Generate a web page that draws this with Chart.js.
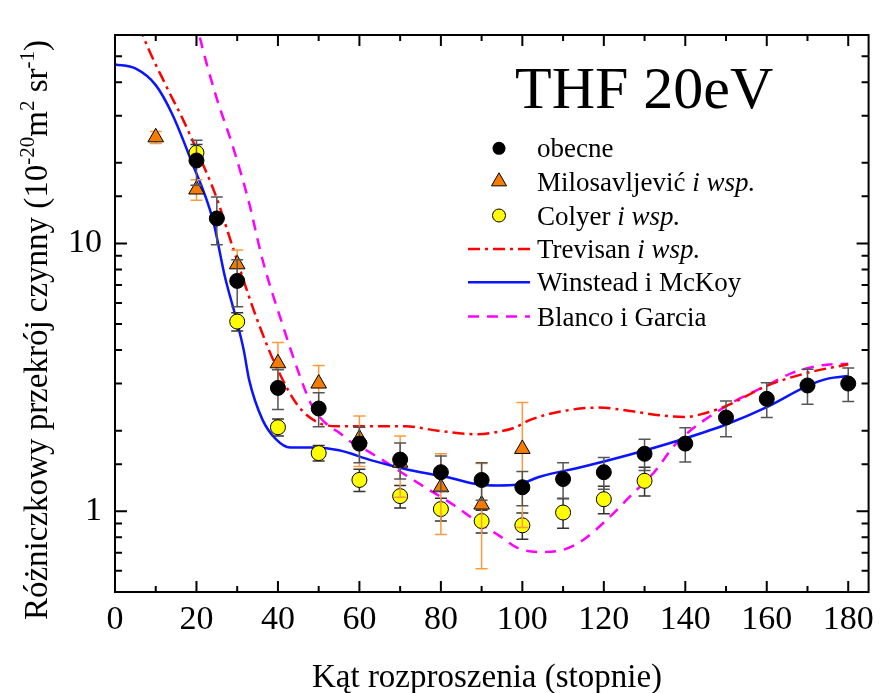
<!DOCTYPE html>
<html lang="pl">
<head>
<meta charset="utf-8">
<title>THF 20eV</title>
<script src="https://cdn.jsdelivr.net/npm/chart.js@4.4.1/dist/chart.umd.min.js"></script>
<style>
  html, body { margin: 0; padding: 0; background: #fff; }
  canvas { display: block; }
</style>
</head>
<body>
<canvas id="dcs" width="882" height="693"></canvas>
<script>
// Scattering angles (degrees) and differential cross sections (10^-20 m^2 sr^-1)
const obecneAngles = [20, 25, 30, 40, 50, 60, 70, 80, 90, 100, 110, 120, 130, 140, 150, 160, 170, 180];
const obecneValues = [20.4, 12.4, 7.25, 2.89, 2.42, 1.79, 1.56, 1.40, 1.31, 1.23, 1.32, 1.40, 1.64, 1.79, 2.24, 2.63, 2.95, 3.00];
const obecneErrors = [3.9, 2.5, 1.45, 0.49, 0.35, 0.27, 0.24, 0.21, 0.21, 0.18, 0.2, 0.19, 0.22, 0.26, 0.34, 0.39, 0.44, 0.43];

const milosAngles = [10, 20, 30, 40, 50, 60, 70, 80, 90, 100];
const milosValues = [24.9, 15.9, 8.36, 3.57, 3.00, 1.87, 1.52, 1.23, 1.06, 1.71];
const milosErrors = [1.3, 1.4, 1.1, 0.7, 0.5, 0.4, 0.39, 0.41, 0.45, 0.84];

const colyerAngles = [20, 30, 40, 50, 60, 70, 80, 90, 100, 110, 120, 130];
const colyerValues = [21.8, 5.11, 2.06, 1.65, 1.31, 1.14, 1.02, 0.92, 0.887, 0.99, 1.11, 1.30];
const colyerErrors = [1.6, 0.4, 0.15, 0.11, 0.125, 0.11, 0.1, 0.09, 0.1, 0.125, 0.13, 0.16];

const trevisanAngles = [4, 6.8, 12.6, 16.7, 20.7, 24.8, 28.9, 33.7, 37.4, 40.3, 45, 50, 54.9, 65, 71.2, 79.3, 89.1, 94, 98, 102.1, 110.2, 118.4, 126.5, 133, 140, 145, 150, 160, 170, 180];
const trevisanValues = [80, 60, 38.6, 29, 21.2, 15.0, 9.7, 5.84, 4.14, 3.29, 2.47, 2.14, 2.08, 2.08, 2.08, 2.0, 1.94, 1.98, 2.05, 2.2, 2.37, 2.44, 2.37, 2.29, 2.25, 2.33, 2.47, 2.94, 3.29, 3.54];

const winsteadAngles = [0, 5, 10, 14, 18.7, 24, 27, 29.8, 31.6, 32.9, 36.2, 39.5, 43, 49, 55, 63, 71.2, 81.7, 89.1, 94, 98.8, 104.5, 115.1, 126.5, 137.9, 150, 160, 170, 175, 180];
const winsteadValues = [46.6, 45.0, 39.0, 30.5, 20.4, 12.3, 7.5, 5.2, 4.0, 3.11, 2.2, 1.86, 1.73, 1.73, 1.69, 1.55, 1.44, 1.34, 1.26, 1.25, 1.26, 1.35, 1.47, 1.63, 1.83, 2.11, 2.45, 2.94, 3.13, 3.2];

const blancoAngles = [18, 20.7, 24.8, 28.9, 32.9, 36.2, 41.5, 45.1, 48.4, 52.5, 55, 57.3, 61.4, 65.5, 71.2, 76.1, 83.4, 88.3, 94.4, 98.8, 104.5, 110.2, 115.1, 120.8, 126.5, 132.2, 137.9, 150, 159.8, 166.3, 173.6, 180];
const blancoValues = [95, 60, 35.5, 23.1, 14.2, 8.71, 4.78, 3.29, 2.47, 2.08, 1.97, 1.84, 1.70, 1.56, 1.37, 1.23, 1.05, 0.93, 0.81, 0.73, 0.705, 0.72, 0.785, 0.933, 1.14, 1.39, 1.80, 2.47, 2.94, 3.29, 3.51, 3.56];

const yMajorTicks = [1, 10];
const xLabelStep = 20;

const SERIF = "'Liberation Serif', 'Times New Roman', serif";

function pairs(xs, ys) { return xs.map((a, i) => ({ x: a, y: ys[i] })); }

// Error bars are painted just before their own dataset so markers sit on top
const errorBarPlugin = {
  id: 'errorBars',
  beforeDatasetDraw(chart, args) {
    const ds = chart.data.datasets[args.index];
    if (!ds.errors) return;
    const { ctx, scales: { x, y } } = chart;
    ctx.save();
    ctx.strokeStyle = ds.errorColor;
    ctx.lineWidth = 1.5;
    ds.data.forEach((p, i) => {
      const e = ds.errors[i];
      const px = x.getPixelForValue(p.x);
      const yt = y.getPixelForValue(p.y + e);
      const yb = y.getPixelForValue(Math.max(p.y - e, 1e-3));
      ctx.beginPath();
      ctx.moveTo(px, yt); ctx.lineTo(px, yb);
      ctx.moveTo(px - 6, yt); ctx.lineTo(px + 6, yt);
      ctx.moveTo(px - 6, yb); ctx.lineTo(px + 6, yb);
      ctx.stroke();
    });
    ctx.restore();
  }
};

// Box frame with inward ticks on all four sides
const framePlugin = {
  id: 'frame',
  afterDatasetsDraw(chart) {
    const { ctx, chartArea: a, scales: { x, y } } = chart;
    ctx.save();
    ctx.strokeStyle = '#000';
    ctx.lineWidth = 2;
    ctx.beginPath();
    x.ticks.forEach(t => {
      const px = x.getPixelForValue(t.value);
      const len = (t.value % xLabelStep === 0) ? 11 : 6;
      ctx.moveTo(px, a.bottom); ctx.lineTo(px, a.bottom - len);
      ctx.moveTo(px, a.top); ctx.lineTo(px, a.top + len);
    });
    y.ticks.forEach(t => {
      const py = y.getPixelForValue(t.value);
      const len = yMajorTicks.includes(t.value) ? 12 : 7;
      ctx.moveTo(a.left, py); ctx.lineTo(a.left + len, py);
      ctx.moveTo(a.right, py); ctx.lineTo(a.right - len, py);
    });
    ctx.stroke();
    ctx.strokeRect(a.left, a.top, a.right - a.left, a.bottom - a.top);
    ctx.restore();
  }
};

// Draw a run of text pieces: [text, font, yShift]
function drawRuns(ctx, runs, x, y) {
  let cx = x;
  runs.forEach(([t, f, dy]) => {
    ctx.font = f;
    ctx.fillText(t, cx, y + (dy || 0));
    cx += ctx.measureText(t).width;
  });
  return cx - x;
}
function runsWidth(ctx, runs) {
  let w = 0;
  runs.forEach(([t, f]) => { ctx.font = f; w += ctx.measureText(t).width; });
  return w;
}

const annotationPlugin = {
  id: 'annotations',
  afterDraw(chart) {
    const { ctx } = chart;
    ctx.save();
    ctx.fillStyle = '#000';
    ctx.textBaseline = 'alphabetic';
    ctx.textAlign = 'left';

    // Title
    ctx.font = `60px ${SERIF}`;
    ctx.fillText('THF 20eV', 515, 108);

    // Axis titles
    const F = `33px ${SERIF}`;
    const S = `21px ${SERIF}`;
    ctx.font = F;
    ctx.textAlign = 'center';
    ctx.fillText('Kąt rozproszenia (stopnie)', 487, 687);
    ctx.textAlign = 'left';

    const yRuns = [
      ['Różniczkowy przekrój czynny (10', F, 0],
      ['-20', S, -13],
      ['m', F, 0],
      ['2', S, -13],
      [' sr', F, 0],
      ['-1', S, -13],
      [')', F, 0]
    ];
    const yw = runsWidth(ctx, yRuns);
    ctx.save();
    ctx.translate(47, 330);
    ctx.rotate(-Math.PI / 2);
    drawRuns(ctx, yRuns, -yw / 2, 0);
    ctx.restore();

    // Legend
    const L = `27px ${SERIF}`;
    const LI = `italic 27px ${SERIF}`;
    const symX = 499, textX = 537;
    const rows = [148.3, 181.5, 215.5, 249, 282.3, 316.5];
    ctx.lineWidth = 1;
    ctx.strokeStyle = '#000';
    ctx.fillStyle = '#000';
    ctx.beginPath(); ctx.arc(symX, rows[0], 6.5, 0, Math.PI * 2); ctx.fill();
    const r = 8.7;
    ctx.beginPath();
    ctx.moveTo(symX, rows[1] - r);
    ctx.lineTo(symX + r * Math.sin(2 * Math.PI / 3), rows[1] - r * Math.cos(2 * Math.PI / 3));
    ctx.lineTo(symX + r * Math.sin(4 * Math.PI / 3), rows[1] - r * Math.cos(4 * Math.PI / 3));
    ctx.closePath();
    ctx.fillStyle = '#f57c00'; ctx.fill(); ctx.stroke();
    ctx.beginPath(); ctx.arc(symX, rows[2], 6.5, 0, Math.PI * 2);
    ctx.fillStyle = '#ffff00'; ctx.fill(); ctx.stroke();
    const lineSample = (yy, color, dash) => {
      ctx.save();
      ctx.strokeStyle = color; ctx.lineWidth = 2.5; ctx.setLineDash(dash);
      ctx.beginPath(); ctx.moveTo(468, yy); ctx.lineTo(530, yy); ctx.stroke();
      ctx.restore();
    };
    lineSample(rows[3], '#ff0000', [12, 5, 3, 5]);
    lineSample(rows[4], '#0a14ff', []);
    lineSample(rows[5], '#ff00ff', [11, 8]);

    ctx.fillStyle = '#000';
    const labels = [
      [['obecne', L]],
      [['Milosavljević ', L], ['i wsp.', LI]],
      [['Colyer ', L], ['i wsp.', LI]],
      [['Trevisan ', L], ['i wsp.', LI]],
      [['Winstead i McKoy', L]],
      [['Blanco i Garcia', L]]
    ];
    labels.forEach((runs, i) => drawRuns(ctx, runs, textX, rows[i] + 9));
    ctx.restore();
  }
};

const tickFont = { family: SERIF, size: 34 };

new Chart(document.getElementById('dcs'), {
  type: 'scatter',
  data: {
    datasets: [
      {
        label: 'obecne',
        data: pairs(obecneAngles, obecneValues),
        errors: obecneErrors, errorColor: '#555555',
        pointStyle: 'circle', pointRadius: 7.5, pointBackgroundColor: '#000', pointBorderColor: '#000', pointBorderWidth: 1
      },
      {
        label: 'Milosavljević i wsp.',
        data: pairs(milosAngles, milosValues),
        errors: milosErrors, errorColor: '#ff9a3c',
        pointStyle: 'triangle', pointRadius: 9, pointBackgroundColor: '#f57c00', pointBorderColor: '#000', pointBorderWidth: 1
      },
      {
        label: 'Colyer i wsp.',
        data: pairs(colyerAngles, colyerValues),
        errors: colyerErrors, errorColor: '#333333',
        pointStyle: 'circle', pointRadius: 7.5, pointBackgroundColor: '#ffff00', pointBorderColor: '#000', pointBorderWidth: 1
      },
      {
        label: 'Trevisan i wsp.', type: 'line',
        data: pairs(trevisanAngles, trevisanValues),
        borderColor: '#ff0000', borderWidth: 2.5, borderDash: [12, 5, 3, 5],
        pointRadius: 0, fill: false, cubicInterpolationMode: 'monotone'
      },
      {
        label: 'Winstead i McKoy', type: 'line',
        data: pairs(winsteadAngles, winsteadValues),
        borderColor: '#0a14ff', borderWidth: 2.5,
        pointRadius: 0, fill: false, cubicInterpolationMode: 'monotone'
      },
      {
        label: 'Blanco i Garcia', type: 'line',
        data: pairs(blancoAngles, blancoValues),
        borderColor: '#ff00ff', borderWidth: 2.5, borderDash: [11, 8],
        pointRadius: 0, fill: false, cubicInterpolationMode: 'monotone'
      }
    ]
  },
  options: {
    responsive: false,
    animation: false,
    events: [],
    layout: { padding: { top: 35, right: 8, left: 0, bottom: 0 } },
    scales: {
      x: {
        type: 'linear', min: 0, max: 185,
        afterFit(s) { s.height = 101; },
        grid: { drawOnChartArea: false, drawTicks: false },
        border: { display: false },
        ticks: {
          stepSize: 10, includeBounds: false, autoSkip: false, maxRotation: 0,
          padding: 8, color: '#000', font: tickFont,
          callback: v => (v % xLabelStep === 0 ? String(v) : '')
        }
      },
      y: {
        type: 'logarithmic', min: 0.5, max: 60,
        afterFit(s) { s.width = 115; },
        grid: { drawOnChartArea: false, drawTicks: false },
        border: { display: false },
        ticks: {
          autoSkip: false, padding: 13, color: '#000', font: tickFont,
          callback: v => (yMajorTicks.includes(v) ? String(v) : '')
        }
      }
    },
    plugins: { legend: { display: false }, tooltip: { enabled: false }, title: { display: false } }
  },
  plugins: [errorBarPlugin, framePlugin, annotationPlugin]
});
</script>
</body>
</html>
